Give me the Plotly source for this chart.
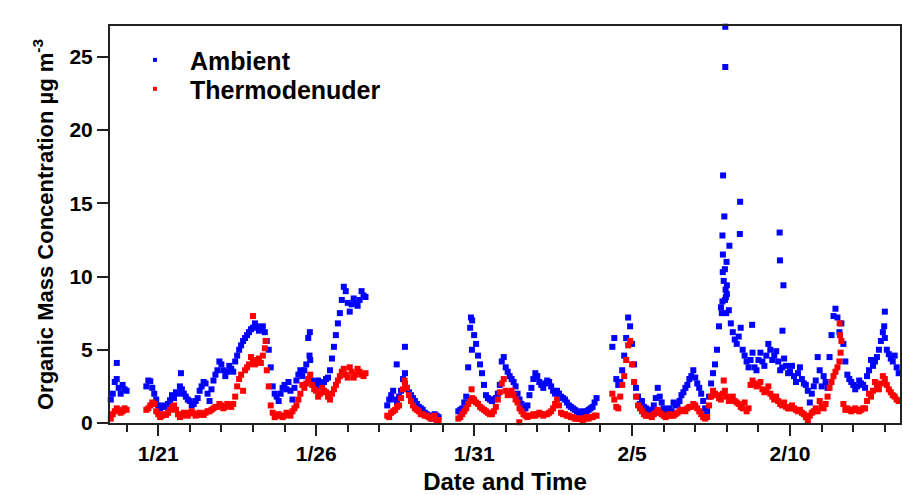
import numpy as np
import pandas as pd
import plotly.graph_objects as go

# ---------------- data (day numbers counted in January: 21.0 = 1/21 00:00, 32.0 = 2/1) ----------------
STEP_DAYS = 0.125   # 3-hour reading grid
HALF = 0.0625       # second reading inside each 3-hour bin (band scatter)
seg_starts = [19.5, 20.625, 28.25, 30.5, 35.375]

ambient_a = [1.6, 2.8, 2.4, 2.6, 2.2]
ambient_b = [2.5, 2.85, 2.0, 1.2, 1.1, 1.1, 1.55, 1.7, 2.0, 2.3, 1.8, 1.5, 1.3, 1.7, 2.5, 2.7,
             1.5, 2.9, 3.6, 4.0, 3.2, 3.9, 3.5, 4.6, 5.3, 5.8, 6.2, 6.5, 6.6, 6.4, 6.2, 5.0,
             2.5, 1.8, 2.0, 2.6, 2.8, 1.6, 2.9, 3.6, 3.6, 5.8, 2.9, 2.6, 2.5, 2.8, 3.1, 4.4,
             6.0, 7.5, 9.3, 8.2, 8.1, 8.2, 8.4, 8.7]
ambient_c = [1.2, 1.9, 1.6, 1.8, 3.0, 2.4, 1.9, 1.5, 1.1, 0.9, 0.6, 0.5, 0.6, 0.4]
ambient_d = [0.8, 1.0, 1.8, 6.5, 6.0, 4.6, 3.4, 1.9, 1.6, 1.6, 2.0, 4.2, 3.8, 3.2, 2.8, 2.0,
             1.3, 1.0, 1.9, 3.0, 3.2, 2.6, 2.7, 2.8, 2.2, 2.2, 1.8, 1.6, 1.2, 1.0, 0.8, 0.7,
             0.7, 0.9, 1.1, 1.7]
ambient_e = [5.2, 3.0, 2.8, 4.6, 7.2, 5.4, 2.4, 1.3, 1.1, 0.9, 0.9, 1.7, 1.8, 1.0, 0.8, 0.8,
             1.2, 1.5, 2.1, 2.6, 3.2, 3.1, 2.4, 1.5, 0.8, 2.7, 4.0, 6.6, 11.5, 8.8, 6.8, 5.7,
             5.9, 5.0, 4.2, 4.3, 3.8, 4.3, 4.2, 4.6, 5.0, 4.6, 4.2, 3.8, 3.9, 3.5, 3.2, 3.4,
             3.0, 2.6, 1.4, 2.5, 4.5, 2.5, 2.8, 4.5, 7.3, 7.2, 6.8, 4.2, 3.0, 2.6, 2.5, 2.7,
             2.4, 3.6, 3.9, 4.5, 5.6, 5.8, 4.7, 4.2, 3.8, 3.2]

# second reading in each bin (None = no point)
ambient_a2 = [2.0, 3.0, 2.0, 2.3, None]
ambient_b2 = [2.9, 2.4, 1.6, 1.0, 1.2, 1.3, 1.9, 2.1, 2.5, 2.0, 1.6, 1.2, 1.5, 2.2, 2.8, 2.0,
              2.3, 3.3, 4.2, 3.6, 3.5, 3.7, 4.2, 5.0, 5.6, 6.0, 6.4, 6.8, 6.3, 6.6, 5.6, 3.8,
              2.0, 1.5, 2.4, 2.3, 2.2, 2.4, 3.3, 3.2, 4.0, 4.3, 2.7, 2.9, 2.6, 3.0, 3.6, 5.2,
              6.8, 8.4, 9.0, 7.6, 8.5, 8.0, 9.0, 8.6]
ambient_c2 = [1.6, 2.2, 1.4, 2.2, 3.4, 2.1, 1.7, 1.3, 1.0, 0.7, 0.5, 0.3, 0.5, None]
ambient_d2 = [0.9, 1.4, 3.8, 7.0, 5.4, 4.0, 2.6, 1.7, 1.5, 1.7, 2.6, 4.5, 3.5, 3.0, 2.5, 1.6,
              1.1, 1.2, 2.4, 3.4, 2.8, 2.4, 2.9, 2.5, 2.0, 2.0, 1.7, 1.4, 1.1, 0.9, 0.7, 0.8,
              0.8, 1.0, 1.4, None]
ambient_e2 = [5.8, 2.6, 3.6, 5.8, 6.6, 4.0, 1.8, 1.5, 1.0, 0.7, 1.2, 2.4, 1.4, 0.9, 1.0, 1.4,
              1.3, 1.9, 2.4, 3.0, 3.6, 2.7, 2.0, 1.0, 1.8, 3.4, 5.0, 7.9, 10.5, 7.7, 6.2, 5.4,
              6.5, 4.6, 3.8, 4.8, 3.6, 4.8, 3.9, 5.4, 4.3, 4.9, 3.6, 4.4, 3.4, 3.9, 2.8, 3.8,
              2.7, 2.2, 2.0, 2.9, 3.6, 3.2, 2.4, 6.0, 7.8, 6.2, 5.4, 3.3, 2.8, 2.3, 2.9, 2.6,
              3.2, 4.3, 4.2, 5.0, 6.2, 5.0, 4.4, 4.6, 3.4, None]

thermo_a = [0.3, 0.8, 0.9, 0.8, 0.9]
thermo_b = [0.9, 1.2, 1.3, 0.6, 0.5, 0.55, 0.9, 1.2, 0.6, 0.5, 0.6, 0.7, 0.65, 0.55, 0.6, 0.7,
            0.8, 1.0, 1.1, 1.2, 1.1, 1.2, 1.3, 2.5, 3.3, 3.6, 4.0, 4.3, 4.2, 4.1, 5.1, 2.5,
            0.7, 0.5, 0.5, 0.5, 0.6, 0.8, 1.2, 2.0, 2.4, 3.0, 2.6, 2.2, 2.0, 2.2, 1.8, 2.0,
            2.6, 3.2, 3.7, 3.1, 3.5, 3.3, 3.5, 3.2]
thermo_c = [0.5, 0.7, 0.9, 1.2, 2.3, 2.4, 1.5, 1.0, 0.8, 0.6, 0.5, 0.3, 0.5, 0.2]
thermo_d = [0.3, 0.6, 1.0, 1.5, 1.6, 1.3, 1.0, 0.8, 0.6, 0.8, 1.6, 2.7, 2.2, 2.0, 1.9, 1.4,
            0.8, 0.5, 0.5, 0.6, 0.6, 0.6, 0.6, 0.7, 1.0, 1.6, 0.7, 0.6, 0.5, 0.4, 0.3, 0.3,
            0.3, 0.3, 0.4, 0.5]
thermo_e = [2.0, 1.1, 1.8, 3.2, 5.3, 4.0, 1.8, 1.0, 0.6, 0.5, 0.4, 0.7, 0.7, 0.5, 0.5, 0.5,
            0.6, 0.8, 0.9, 1.0, 1.1, 1.2, 0.8, 0.4, 0.4, 1.8, 2.0, 1.7, 2.0, 1.8, 1.6, 1.5,
            1.3, 1.0, 0.8, 2.6, 2.7, 2.6, 2.3, 2.2, 2.0, 1.6, 1.5, 1.2, 1.1, 1.0, 1.0, 0.8,
            0.7, 0.4, 0.5, 0.8, 0.8, 1.1, 1.3, 2.4, 3.2, 3.8, 5.6, 0.9, 0.9, 0.9, 0.9, 0.9,
            1.0, 2.0, 2.2, 2.5, 2.7, 3.0, 2.3, 1.9, 1.6, 1.7]

thermo_a2 = [0.6, 1.0, 0.7, 1.0, None]
thermo_b2 = [1.0, 1.4, 0.8, 0.4, 0.6, 0.7, 1.1, 0.9, 0.4, 0.7, 0.5, 0.8, 0.5, 0.7, 0.55, 0.8,
             0.9, 1.1, 1.3, 1.0, 1.3, 1.1, 1.8, 3.0, 2.2, 3.8, 4.5, 4.0, 4.4, 4.6, 3.6, 1.2,
             0.4, 0.6, 0.4, 0.7, 0.5, 1.0, 1.6, 2.6, 2.7, 3.3, 2.3, 1.8, 2.4, 2.1, 1.6, 2.3,
             2.9, 3.5, 3.3, 3.8, 3.1, 3.7, 3.3, 3.4]
thermo_c2 = [0.4, 0.8, 1.1, 1.7, 2.7, 1.9, 1.2, 0.9, 0.6, 0.5, 0.4, 0.4, 0.2, None]
thermo_d2 = [0.4, 0.8, 1.3, 1.7, 1.4, 1.1, 0.9, 0.7, 0.6, 1.1, 2.1, 3.0, 1.9, 2.2, 1.6, 1.0,
             0.6, 0.4, 0.5, 0.5, 0.7, 0.5, 0.6, 0.8, 1.3, 1.2, 0.6, 0.5, 0.4, 0.3, 0.3, 0.2,
             0.4, 0.4, 0.5, None]
thermo_e2 = [1.6, 1.0, 2.6, 4.3, 5.6, 2.8, 1.2, 0.8, 0.5, 0.5, 0.6, 0.9, 0.6, 0.4, 0.6, 0.5,
             0.7, 0.9, 0.8, 1.1, 1.3, 1.0, 0.6, 0.3, 1.2, 2.2, 1.9, 1.6, 2.2, 1.5, 1.8, 1.4,
             1.1, 1.4, 1.0, 2.9, 2.5, 2.8, 2.1, 2.5, 1.8, 1.8, 1.3, 1.4, 1.0, 1.2, 0.9, 0.9,
             0.6, 0.2, 0.7, 1.0, 1.5, 1.0, 1.8, 2.8, 3.5, 4.2, 1.3, 1.0, 0.8, 1.0, 0.8, 1.0,
             1.5, 1.8, 2.8, 2.3, 3.2, 2.6, 2.1, 1.8, 1.5, None]

# isolated points
ambient_extra_t = [19.69, 21.72, 25.79, 25.80, 28.55, 28.81, 30.90, 30.93, 38.84, 38.86, 38.86,
                   38.87, 38.88, 38.90, 38.92, 38.94, 38.95, 38.95, 38.96, 38.97, 38.98, 38.99,
                   39.00, 39.08, 39.41, 39.42, 39.80, 40.67, 40.68, 40.76, 40.79, 43.98, 44.00]
ambient_extra_v = [4.1, 3.4, 4.6, 6.2, 4.0, 5.2, 7.2, 5.0, 7.5, 12.8, 8.3,
                   10.3, 16.9, 9.7, 14.1, 8.4, 27.05, 24.3, 9.1, 8.6, 7.5, 11.0,
                   9.4, 12.1, 12.9, 15.1, 6.7, 13.0, 11.1, 6.3, 9.4, 6.6, 7.6]
thermo_extra_t = [24.0, 24.4, 28.8, 30.92, 32.43, 38.9, 42.57, 42.58, 42.6]
thermo_extra_v = [7.3, 5.6, 2.9, 2.3, 0.05, 2.9, 6.8, 6.0, 4.8]

series_names = ["Ambient", "Thermodenuder"]
series_colors = ["#0000FF", "#FF0000"]

tick_days = [21, 26, 31, 36, 41]
tick_text = ["1/21", "1/26", "1/31", "2/5", "2/10"]
x_range_days = [19.475, 44.48]
y_range = [0, 27.1]
y_ticks = [0, 5, 10, 15, 20, 25]

BASE = pd.Timestamp("2011-01-01")


def to_time(days):
    return [BASE + pd.Timedelta(days=float(d) - 1) for d in days]


def expand(starts, segments, segments2, extra_t, extra_v):
    t, v = [], []
    for s, vals, vals2 in zip(starts, segments, segments2):
        for i, val in enumerate(vals):
            t.append(s + i * STEP_DAYS)
            v.append(val)
        for i, val in enumerate(vals2):
            if val is not None:
                t.append(s + HALF + i * STEP_DAYS)
                v.append(val)
    return t + list(extra_t), v + list(extra_v)


amb_t, amb_v = expand(seg_starts,
                      [ambient_a, ambient_b, ambient_c, ambient_d, ambient_e],
                      [ambient_a2, ambient_b2, ambient_c2, ambient_d2, ambient_e2],
                      ambient_extra_t, ambient_extra_v)
th_t, th_v = expand(seg_starts,
                    [thermo_a, thermo_b, thermo_c, thermo_d, thermo_e],
                    [thermo_a2, thermo_b2, thermo_c2, thermo_d2, thermo_e2],
                    thermo_extra_t, thermo_extra_v)

FONT = "Liberation Sans, Arial, sans-serif"
AX = "#222222"

fig = go.Figure()
for (t, v), name, col in zip([(amb_t, amb_v), (th_t, th_v)], series_names, series_colors):
    fig.add_trace(go.Scatter(x=to_time(t), y=v, mode="markers", name=name,
                             marker=dict(symbol="square", size=6, color=col, line=dict(width=0)),
                             cliponaxis=False, showlegend=False))

# legend entries (small square symbols like the original key)
for name, col, leg in zip(series_names, series_colors, ["legend", "legend2"]):
    fig.add_trace(go.Scatter(x=[None], y=[None], mode="markers", name=name,
                             marker=dict(symbol="square", size=4, color=col, line=dict(width=0)),
                             legend=leg, showlegend=True))

leg_common = dict(xanchor="left", yanchor="top", itemwidth=60,
                  font=dict(size=25, weight="bold", family=FONT, color="black"),
                  bgcolor="rgba(0,0,0,0)", itemsizing="trace")

fig.update_layout(
    width=903, height=495,
    margin=dict(l=110, r=1, t=26, b=72),
    plot_bgcolor="white", paper_bgcolor="white",
    font=dict(family=FONT, color="black"),
    showlegend=True,
    legend=dict(x=0.0126, y=0.972, **leg_common),
    legend2=dict(x=0.0126, y=0.899, **leg_common),
)
fig.update_xaxes(
    type="date",
    range=to_time(x_range_days),
    tickmode="array", tickvals=to_time(tick_days), ticktext=tick_text,
    ticks="outside", ticklen=11, tickwidth=2, tickcolor=AX,
    minor=dict(ticks="outside", ticklen=7, tickwidth=2, tickcolor=AX,
               tickmode="linear", tick0=to_time([21])[0], dtick=86400000, showgrid=False),
    showline=True, linecolor=AX, linewidth=2, mirror=True,
    showgrid=False, zeroline=False,
    tickfont=dict(size=21, weight="bold", family=FONT, color="black"),
    title=dict(text="Date and Time", font=dict(size=24, weight="bold", family=FONT, color="black"),
               standoff=12),
)
fig.update_yaxes(
    range=y_range,
    tickmode="array", tickvals=y_ticks,
    ticks="outside", ticklen=11, tickwidth=2, tickcolor=AX,
    showline=True, linecolor=AX, linewidth=2, mirror=True,
    showgrid=False, zeroline=False,
    tickfont=dict(size=21, weight="bold", family=FONT, color="black"),
    title=dict(text="Organic Mass Concentration µg m<sup>-3</sup>",
               font=dict(size=22, weight="bold", family=FONT, color="black"), standoff=10),
)

fig.write_html("out.html")
